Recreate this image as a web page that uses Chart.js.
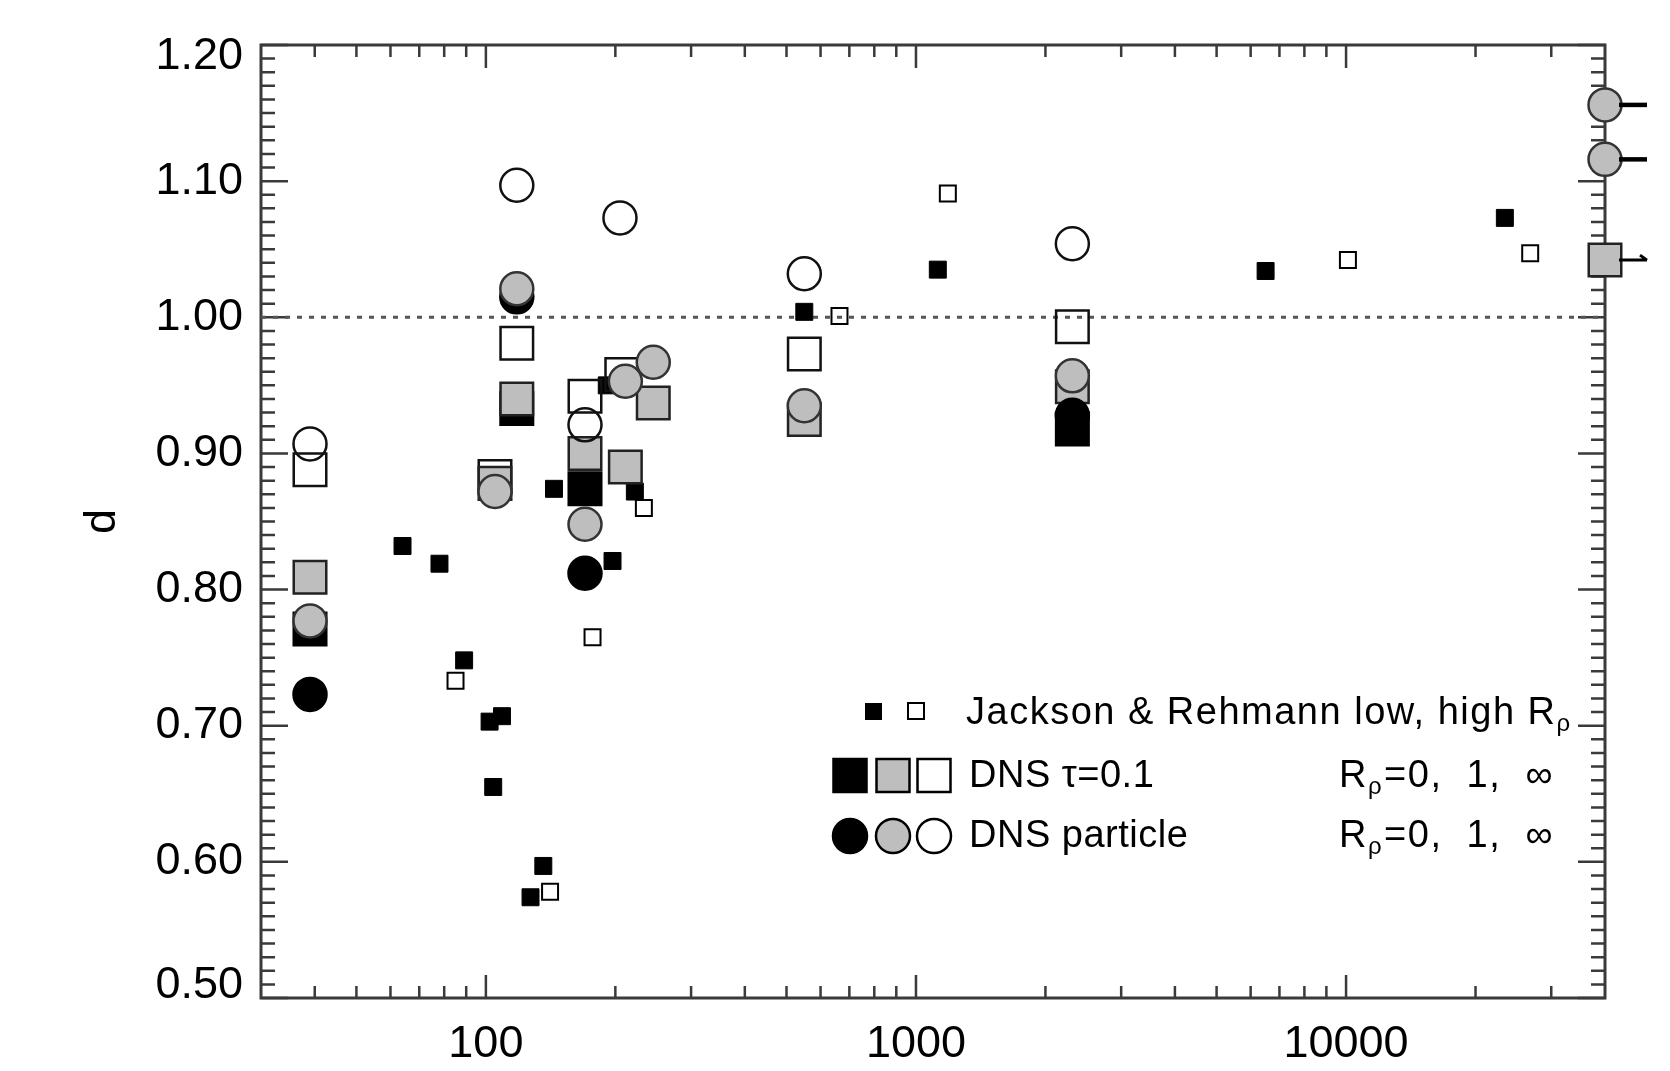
<!DOCTYPE html>
<html>
<head>
<meta charset="utf-8">
<script src="https://cdn.jsdelivr.net/npm/chart.js@4.4.1/dist/chart.umd.min.js"></script>
<style>
  html, body { margin: 0; padding: 0; background: #fff; }
</style>
</head>
<body>
<canvas id="dPlot" width="1670" height="1071"></canvas>
<script>
// Jackson & Rehmann, low / high R_rho (small squares)
const jrLowRe  = [64, 78, 89, 102, 109, 104, 127, 136, 144, 197, 191, 222, 550, 1124, 6500, 23400];
const jrLowD   = [0.832, 0.819, 0.748, 0.703, 0.707, 0.655, 0.574, 0.597, 0.874, 0.821, 0.950, 0.872, 1.004, 1.035, 1.034, 1.073];
const jrHighRe = [85, 141, 177, 233, 664, 1186, 10100, 26800];
const jrHighD  = [0.733, 0.578, 0.765, 0.860, 1.001, 1.091, 1.042, 1.047];

// DNS tau=0.1, R_rho = 0, 1, inf (big squares)
const sqBlackRe = [39, 118, 170, 2310];
const sqBlackD  = [0.771, 0.933, 0.874, 0.918];
const sqGrayRe  = [39, 105, 118, 170, 211, 245, 550, 2310, 40000];
const sqGrayD   = [0.809, 0.878, 0.940, 0.900, 0.890, 0.937, 0.925, 0.949, 1.042];
const sqOpenRe  = [39, 105, 118, 170, 207, 550, 2310];
const sqOpenD   = [0.888, 0.883, 0.981, 0.942, 0.958, 0.973, 0.993];

// DNS particle, R_rho = 0, 1, inf (circles)
const ciBlackRe = [39, 118, 170, 2310];
const ciBlackD  = [0.723, 1.015, 0.812, 0.928];
const ciGrayRe  = [39, 105, 118, 170, 211, 245, 550, 2310, 40000, 40000];
const ciGrayD   = [0.777, 0.872, 1.021, 0.848, 0.953, 0.967, 0.935, 0.957, 1.156, 1.116];
const ciOpenRe  = [39, 118, 170, 205, 550, 2310];
const ciOpenD   = [0.907, 1.097, 0.921, 1.073, 1.032, 1.054];

const xRange = [30, 40000];
const yRange = [0.5, 1.2];
const xTickLabels = [100, 1000, 10000];
const yTickLabels = [0.5, 0.6, 0.7, 0.8, 0.9, 1.0, 1.1, 1.2];
const refLineD = 1.0;

const GRAY = '#bebebe';
const FONT = '"Liberation Sans", Arial, sans-serif';

function pts(xs, ys) {
    return xs.map((x, i) => ({ x: x, y: ys[i] }));
}

// the end labels of the y axis sit a bit inside the frame in the original
const nudgeEndLabels = {
    id: 'nudgeEndLabels',
    beforeDraw(chart) {
        const y = chart.scales.y;
        const items = y.getLabelItems(chart.chartArea);
        if (!items.length) return;
        items[0].options.translation[1] -= 12;
        items[items.length - 1].options.translation[1] += 12;
    }
};

// IDL style frame with inward ticks on all four sides
const frameTicks = {
    id: 'frameTicks',
    beforeDatasetsDraw(chart) {
        const { ctx, chartArea: a, scales: { x, y } } = chart;
        ctx.save();
        ctx.strokeStyle = '#3a3a3a';
        ctx.lineWidth = 2.5;
        ctx.beginPath();
        for (let i = 50; i <= 120; i++) {
            const py = y.getPixelForValue(i / 100);
            const len = i % 10 === 0 ? 27 : 14;
            ctx.moveTo(a.left, py); ctx.lineTo(a.left + len, py);
            ctx.moveTo(a.right, py); ctx.lineTo(a.right - len, py);
        }
        for (let e = 1; e <= 4; e++) {
            for (let m = 1; m <= 9; m++) {
                const v = m * Math.pow(10, e);
                if (v <= xRange[0] || v >= xRange[1]) continue;
                const px = x.getPixelForValue(v);
                const len = m === 1 ? 23 : 12;
                ctx.moveTo(px, a.bottom); ctx.lineTo(px, a.bottom - len);
                ctx.moveTo(px, a.top); ctx.lineTo(px, a.top + len);
            }
        }
        ctx.stroke();
        ctx.lineWidth = 3;
        ctx.strokeRect(a.left, a.top, a.right - a.left, a.bottom - a.top);
        ctx.restore();
    }
};

// short arrows on points sitting on the right edge (off-scale Re)
const edgeArrows = {
    id: 'edgeArrows',
    afterDatasetsDraw(chart) {
        const ctx = chart.ctx;
        ctx.save();
        ctx.strokeStyle = '#000';
        chart.data.datasets.forEach((ds, i) => {
            if (!ds.arrowRight) return;
            chart.getDatasetMeta(i).data.forEach((el, j) => {
                if (ds.data[j].x < xRange[1]) return;
                const x0 = el.x + 14, x1 = el.x + 42;
                ctx.beginPath();
                ctx.lineWidth = ds.pointStyle === 'rect' ? 3 : 4.5;
                ctx.moveTo(x0, el.y);
                ctx.lineTo(x1, el.y);
                if (ds.pointStyle === 'rect') {
                    ctx.moveTo(x1 - 7, el.y - 5);
                    ctx.lineTo(x1, el.y);
                }
                ctx.stroke();
            });
        });
        ctx.restore();
    }
};

function drawRrho(ctx, x, y) {
    ctx.font = '38px ' + FONT;
    ctx.fillText('R', x, y);
    let w = ctx.measureText('R').width;
    ctx.font = '24px ' + FONT;
    ctx.fillText('\u03c1', x + w, y + 10);
    w += ctx.measureText('\u03c1').width + 1;
    ctx.font = '38px ' + FONT;
    ctx.fillText('=0,  1,  \u221e', x + w, y);
}

const legendBox = {
    id: 'legendBox',
    afterDraw(chart) {
        const ctx = chart.ctx;
        ctx.save();
        ctx.strokeStyle = '#000';
        // row 1: small squares
        ctx.fillStyle = '#000';
        ctx.fillRect(865, 703, 17, 17);
        ctx.lineWidth = 2;
        ctx.strokeRect(908, 703, 16, 16);
        // row 2: big squares
        ctx.lineWidth = 2.5;
        const sx = [850, 893, 934];
        const fills = ['#000', GRAY, null];
        sx.forEach((cx, k) => {
            if (fills[k]) { ctx.fillStyle = fills[k]; ctx.fillRect(cx - 16.5, 759, 33, 33); }
            ctx.strokeRect(cx - 16.5, 759, 33, 33);
        });
        // row 3: circles
        sx.forEach((cx, k) => {
            ctx.beginPath();
            ctx.arc(cx, 836, 17, 0, Math.PI * 2);
            if (fills[k]) { ctx.fillStyle = fills[k]; ctx.fill(); }
            ctx.stroke();
        });
        // texts
        ctx.fillStyle = '#000';
        ctx.textBaseline = 'middle';
        ctx.textAlign = 'left';
        ctx.font = '38px ' + FONT;
        ctx.letterSpacing = '1.5px';
        ctx.fillText('Jackson & Rehmann low, high R', 966, 714);
        let w = ctx.measureText('Jackson & Rehmann low, high R').width;
        ctx.font = '24px ' + FONT;
        ctx.fillText('\u03c1', 966 + w, 724);
        ctx.letterSpacing = '0.5px';
        ctx.font = '38px ' + FONT;
        ctx.fillText('DNS \u03c4=0.1', 969, 777);
        ctx.fillText('DNS particle', 969, 837);
        ctx.letterSpacing = '1.5px';
        drawRrho(ctx, 1339, 777);
        drawRrho(ctx, 1339, 837);
        ctx.restore();
    }
};

const bigSq = { pointStyle: 'rect', pointRadius: 23, borderWidth: 2.5, clip: false };
const circ = { pointStyle: 'circle', pointRadius: 16.5, borderWidth: 2.5, clip: false };

new Chart(document.getElementById('dPlot'), {
    type: 'scatter',
    data: {
        datasets: [
            { type: 'line', label: 'd = 1', data: [{ x: xRange[0], y: refLineD }, { x: xRange[1], y: refLineD }],
              borderColor: '#555', borderWidth: 3, borderDash: [5, 7], pointRadius: 0, order: 10 },
            { label: 'J&R low', data: pts(jrLowRe, jrLowD), pointStyle: 'rect', pointRadius: 12,
              backgroundColor: '#000', borderColor: '#000', borderWidth: 1, order: 9, clip: false },
            { label: 'J&R high', data: pts(jrHighRe, jrHighD), pointStyle: 'rect', pointRadius: 11.3,
              backgroundColor: 'rgba(0,0,0,0)', borderColor: '#000', borderWidth: 2, order: 8, clip: false },
            { label: 'DNS sq R=0', data: pts(sqBlackRe, sqBlackD), ...bigSq,
              backgroundColor: '#000', borderColor: '#000', order: 7 },
            { label: 'DNS sq R=inf', data: pts(sqOpenRe, sqOpenD), ...bigSq,
              backgroundColor: 'rgba(0,0,0,0)', borderColor: '#111', order: 6 },
            { label: 'DNS sq R=1', data: pts(sqGrayRe, sqGrayD), ...bigSq, arrowRight: true,
              backgroundColor: GRAY, borderColor: '#222', order: 5 },
            { label: 'particle R=0', data: pts(ciBlackRe, ciBlackD), ...circ,
              backgroundColor: '#000', borderColor: '#000', order: 4 },
            { label: 'particle R=1', data: pts(ciGrayRe, ciGrayD), ...circ, arrowRight: true,
              backgroundColor: GRAY, borderColor: '#333', order: 3 },
            { label: 'particle R=inf', data: pts(ciOpenRe, ciOpenD), ...circ,
              backgroundColor: 'rgba(0,0,0,0)', borderColor: '#111', order: 2 }
        ]
    },
    options: {
        responsive: false,
        animation: false,
        events: [],
        layout: { padding: { left: 0, top: 43, right: 65, bottom: 0 } },
        plugins: { legend: { display: false }, tooltip: { enabled: false } },
        scales: {
            x: {
                type: 'logarithmic',
                min: xRange[0],
                max: xRange[1],
                grid: { display: false, drawTicks: false },
                border: { display: false },
                afterBuildTicks: (s) => { s.ticks = xTickLabels.map(v => ({ value: v })); },
                afterFit: (s) => { s.height = 73; },
                ticks: {
                    callback: (v) => String(v),
                    font: { family: FONT, size: 45 },
                    color: '#000',
                    padding: 20,
                    maxRotation: 0,
                    autoSkip: false
                }
            },
            y: {
                min: yRange[0],
                max: yRange[1],
                grid: { display: false, drawTicks: false },
                border: { display: false },
                afterBuildTicks: (s) => { s.ticks = yTickLabels.map(v => ({ value: v })); },
                afterFit: (s) => { s.width = 261; },
                ticks: {
                    callback: (v) => Number(v).toFixed(2),
                    font: { family: FONT, size: 45 },
                    color: '#000',
                    padding: 18
                },
                title: {
                    display: true,
                    text: 'd',
                    font: { family: FONT, size: 45 },
                    color: '#000',
                    padding: { top: 76, bottom: 0 }
                }
            }
        }
    },
    plugins: [nudgeEndLabels, frameTicks, edgeArrows, legendBox]
});
</script>
</body>
</html>
